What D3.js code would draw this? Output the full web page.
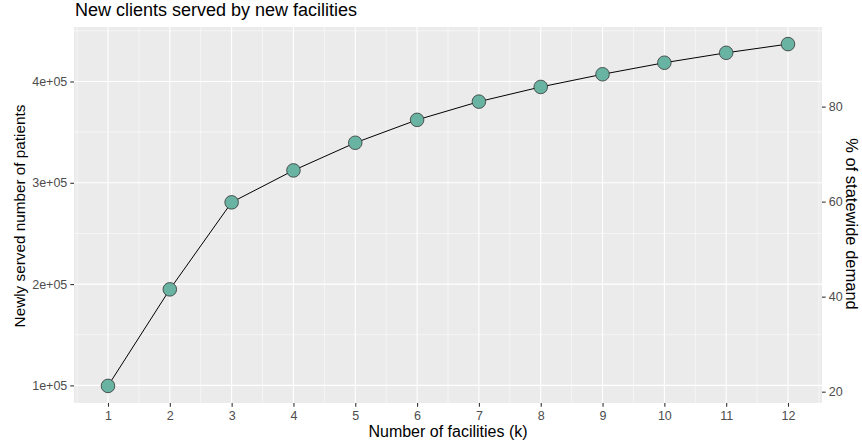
<!DOCTYPE html>
<html>
<head>
<meta charset="utf-8">
<script src="https://cdn.jsdelivr.net/npm/d3@7"></script>
<style>
  html, body { margin: 0; padding: 0; background: #ffffff; }
  svg { display: block; font-family: "Liberation Sans", Arial, sans-serif; }
</style>
</head>
<body>
<svg id="chart" width="862" height="446"></svg>
<script>
// ---- data ----
const facilities = [1, 2, 3, 4, 5, 6, 7, 8, 9, 10, 11, 12];
const newlyServed = [99500, 194800, 280700, 312200, 339500, 362100, 380100, 394600, 407100, 418500, 428300, 436900];
const statewideDemand = 469000;
const xTicks = [1, 2, 3, 4, 5, 6, 7, 8, 9, 10, 11, 12];
const yTicks = [100000, 200000, 300000, 400000];
const yTickLabels = ["1e+05", "2e+05", "3e+05", "4e+05"];
const pctTicks = [20, 40, 60, 80];

const titleText = "New clients served by new facilities";
const xTitle = "Number of facilities (k)";
const yTitle = "Newly served number of patients";
const y2Title = "% of statewide demand";

// ---- layout ----
const svg = d3.select("#chart");
const panel = { left: 74, right: 822, top: 27, bottom: 403 };

const xMin = d3.min(facilities), xMax = d3.max(facilities);
const xPad = (xMax - xMin) * 0.05;
const x = d3.scaleLinear().domain([xMin - xPad, xMax + xPad]).range([panel.left, panel.right]);

const yMin = d3.min(newlyServed), yMax = d3.max(newlyServed);
const yPad = (yMax - yMin) * 0.05;
const y = d3.scaleLinear().domain([yMin - yPad, yMax + yPad]).range([panel.bottom, panel.top]);

const y2 = d3.scaleLinear()
  .domain(y.domain().map(v => v / statewideDemand * 100))
  .range([panel.bottom, panel.top]);

// panel background
svg.append("rect")
  .attr("x", panel.left).attr("y", panel.top)
  .attr("width", panel.right - panel.left).attr("height", panel.bottom - panel.top)
  .attr("fill", "#EBEBEB");

const grid = svg.append("g");
// minor grid
const yStep = yTicks[1] - yTicks[0];
const yMinor = [];
for (let v = yTicks[0] - yStep / 2; v <= y.domain()[1]; v += yStep) {
  if (v >= y.domain()[0] && !yTicks.includes(v)) yMinor.push(v);
}
const xMinor = [];
for (let v = xTicks[0] - 0.5; v <= x.domain()[1]; v += 1) {
  if (v >= x.domain()[0]) xMinor.push(v);
}
grid.selectAll(".ymin").data(yMinor).enter().append("line")
  .attr("x1", panel.left).attr("x2", panel.right)
  .attr("y1", d => y(d)).attr("y2", d => y(d))
  .attr("stroke", "#ffffff").attr("stroke-width", 0.55);
grid.selectAll(".xmin").data(xMinor).enter().append("line")
  .attr("y1", panel.top).attr("y2", panel.bottom)
  .attr("x1", d => x(d)).attr("x2", d => x(d))
  .attr("stroke", "#ffffff").attr("stroke-width", 0.55);
// major grid
grid.selectAll(".ymaj").data(yTicks).enter().append("line")
  .attr("x1", panel.left).attr("x2", panel.right)
  .attr("y1", d => y(d)).attr("y2", d => y(d))
  .attr("stroke", "#ffffff").attr("stroke-width", 1.1);
grid.selectAll(".xmaj").data(xTicks).enter().append("line")
  .attr("y1", panel.top).attr("y2", panel.bottom)
  .attr("x1", d => x(d)).attr("x2", d => x(d))
  .attr("stroke", "#ffffff").attr("stroke-width", 1.1);

// axes
function styleAxis(g) {
  g.attr("font-size", null).attr("font-family", null);
  g.select(".domain").remove();
  g.selectAll(".tick line").attr("stroke", "#333333").attr("stroke-width", 1.1);
  g.selectAll(".tick text").attr("fill", "#4D4D4D").style("font-size", "12.5px")
    .style("font-family", "'Liberation Sans', Arial, sans-serif");
}
svg.append("g")
  .attr("transform", `translate(0,${panel.bottom})`)
  .call(d3.axisBottom(x).tickValues(xTicks).tickFormat(d3.format("d")).tickSizeOuter(0).tickSize(3.7).tickPadding(4))
  .call(styleAxis);
svg.append("g")
  .attr("transform", `translate(${panel.left},0)`)
  .call(d3.axisLeft(y).tickValues(yTicks).tickFormat((d, i) => yTickLabels[i]).tickSizeOuter(0).tickSize(3.7).tickPadding(3))
  .call(styleAxis);
svg.append("g")
  .attr("transform", `translate(${panel.right},0)`)
  .call(d3.axisRight(y2).tickValues(pctTicks).tickFormat(d3.format("d")).tickSizeOuter(0).tickSize(3.7).tickPadding(3))
  .call(styleAxis);

// line + points
const pts = facilities.map((k, i) => ({ k, v: newlyServed[i] }));
svg.append("path")
  .datum(pts)
  .attr("fill", "none")
  .attr("stroke", "#000000")
  .attr("stroke-width", 1)
  .attr("d", d3.line().x(d => x(d.k)).y(d => y(d.v)));
svg.selectAll(".pt").data(pts).enter().append("circle")
  .attr("cx", d => x(d.k)).attr("cy", d => y(d.v))
  .attr("r", 6.8)
  .attr("fill", "#69b3a2")
  .attr("stroke", "#333333")
  .attr("stroke-width", 0.8);

// titles
svg.append("text")
  .attr("x", 75).attr("y", 16)
  .style("font-size", "18px").attr("fill", "#000000")
  .text(titleText);
svg.append("text")
  .attr("x", (panel.left + panel.right) / 2).attr("y", 437)
  .attr("text-anchor", "middle")
  .style("font-size", "16px").attr("fill", "#000000")
  .text(xTitle);
svg.append("text")
  .attr("transform", `translate(25,216) rotate(-90)`)
  .attr("text-anchor", "middle")
  .style("font-size", "15.3px").attr("fill", "#000000")
  .text(yTitle);
svg.append("text")
  .attr("transform", `translate(846,224) rotate(90)`)
  .attr("text-anchor", "middle")
  .style("font-size", "16.5px").attr("fill", "#000000")
  .text(y2Title);
</script>
</body>
</html>
